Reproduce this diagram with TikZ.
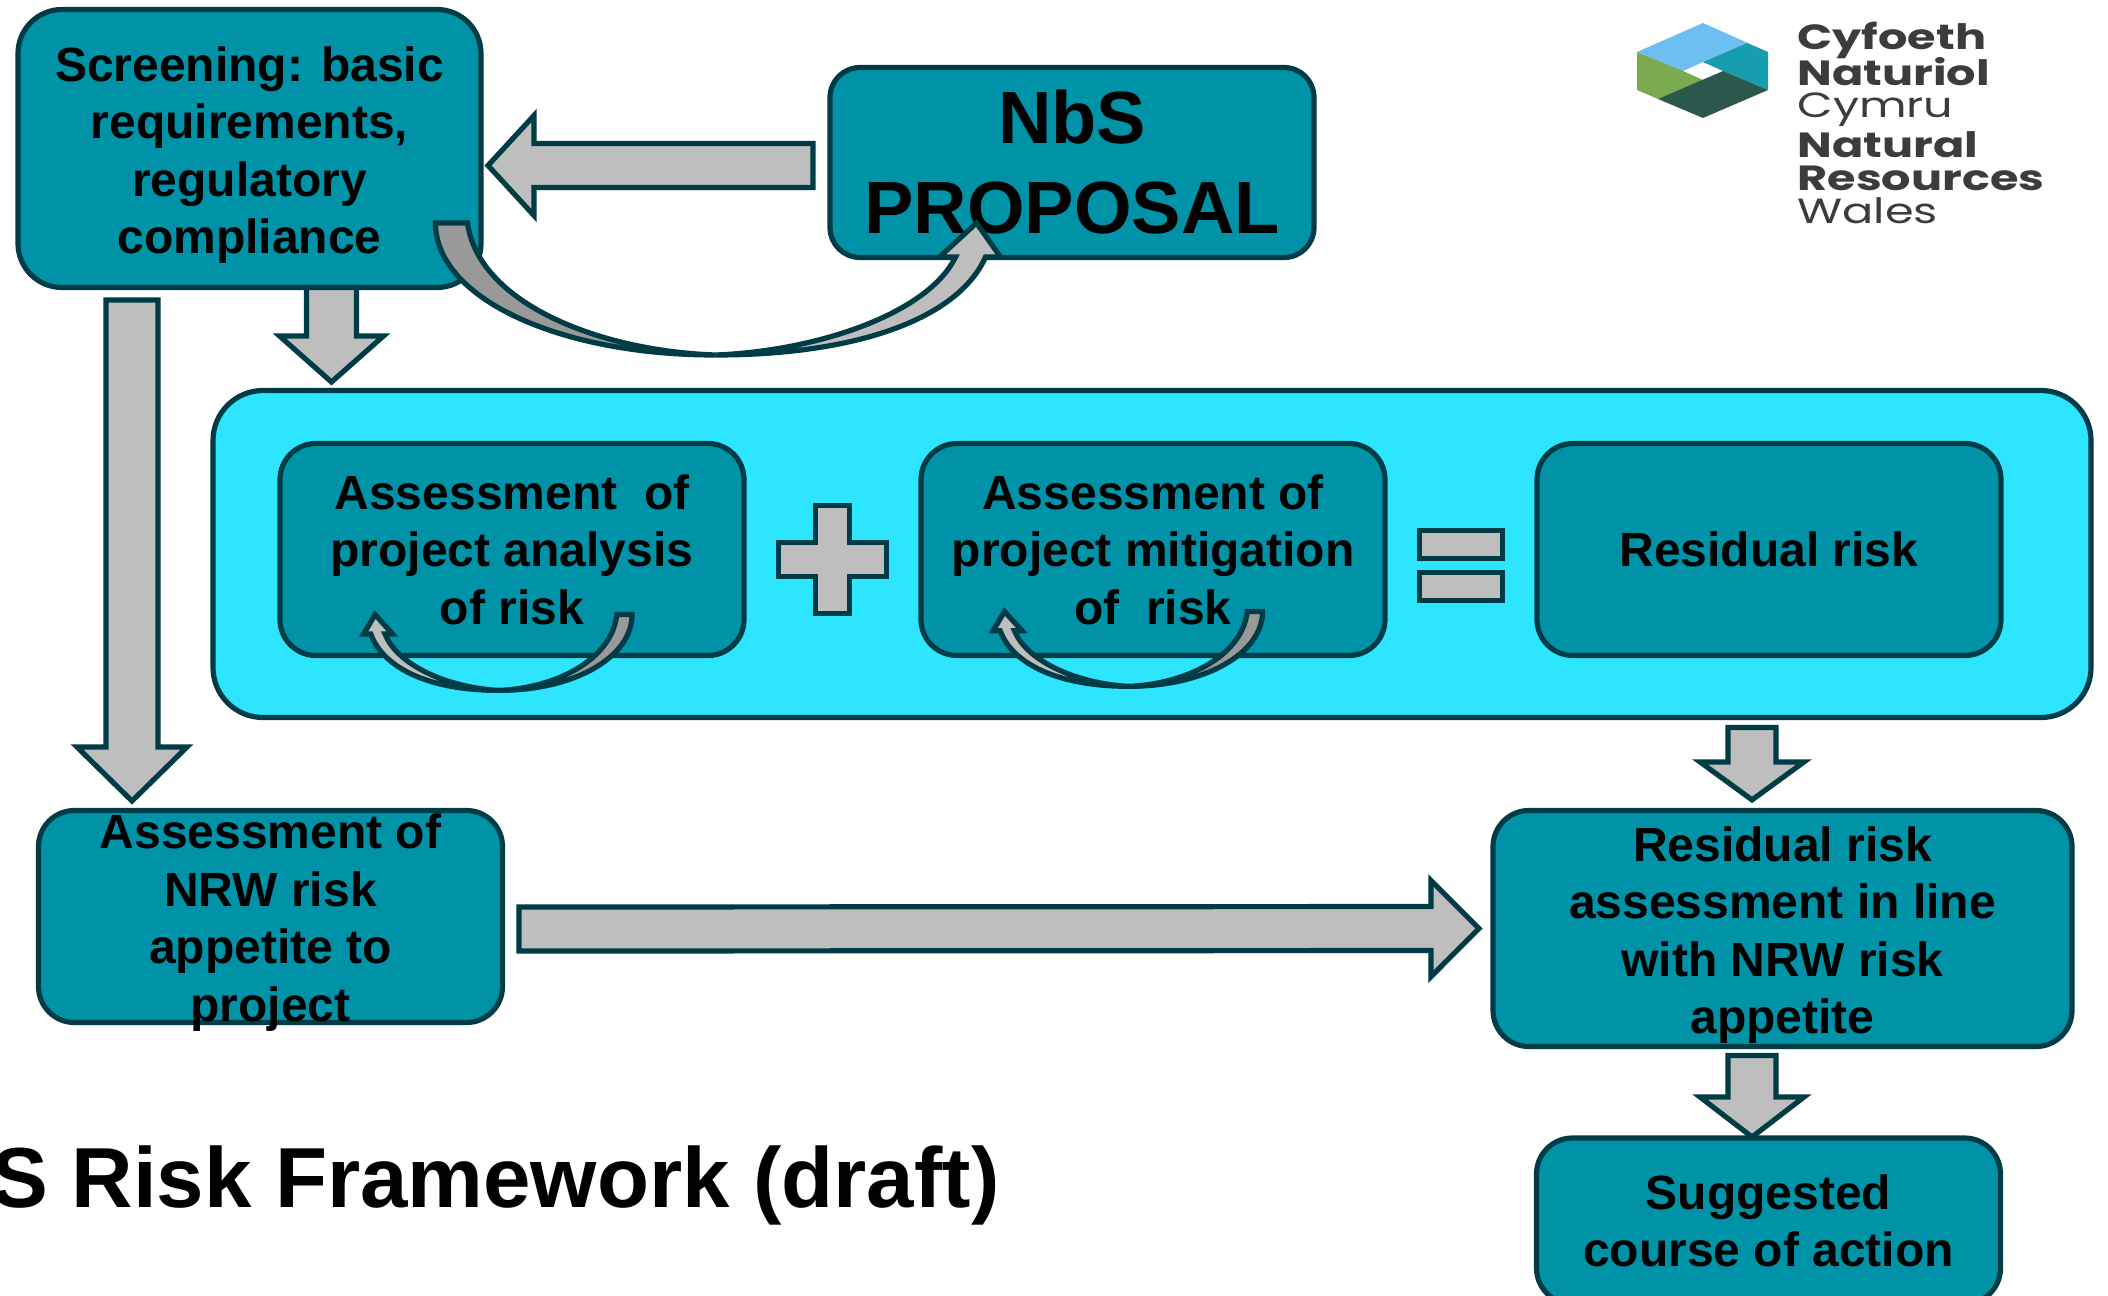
\documentclass[tikz,border=0pt]{standalone}
\usepackage{fontspec}
\setmainfont{Liberation Sans}
\newfontfamily\logofont[FakeStretch=1.32]{Poppins}
\usetikzlibrary{calc,positioning}

\definecolor{boxteal}{HTML}{0093A8}
\definecolor{panelcyan}{HTML}{2DE5FF}
\definecolor{edgeteal}{HTML}{003C46}
\definecolor{facegrey}{HTML}{BEBEBE}
\definecolor{backgrey}{HTML}{999999}
\definecolor{logoblue}{HTML}{6CBFF0}
\definecolor{logoteal}{HTML}{179EAE}
\definecolor{logogreen}{HTML}{7AAB50}
\definecolor{logodark}{HTML}{2C574C}
\definecolor{logotext}{HTML}{3C3C3C}

\newcommand{\topgap}{\rule{0pt}{24pt}}

\newcommand{\blockarrow}[5]{
    \coordinate (base) at ($(#2)!#5!(#1)$);
    \draw[arrowface] ($(#1)!#3!90:(#2)$) -- ($(base)!#3!90:(#2)$) -- ($(base)!#4!90:(#2)$) -- (#2)
        -- ($(base)!#4!-90:(#2)$) -- ($(base)!#3!-90:(#2)$) -- ($(#1)!#3!-90:(#2)$) -- cycle;
}

\newcommand{\curvedarrow}[3]{
    \begin{scope}[shift={(#1)},xscale=#2,yscale=#3]
        \draw[arrowface,fill=backgrey] (2,0) .. controls (2,75) and (125,132) .. (282,132)
            .. controls (165,128) and (45,80) .. (34,0) -- cycle;
        \draw[arrowface] (543,0) -- (567,34) -- (552,34) .. controls (525,95) and (425,132) .. (282,132)
            .. controls (385,128) and (495,90) .. (522,34) -- (506,34) -- cycle;
    \end{scope}
}

\begin{document}
\begin{tikzpicture}[x=.5pt,y=-.5pt,
    box/.style={draw=edgeteal,fill=boxteal,line width=2.6pt,rounded corners=18pt,inner sep=0pt,outer sep=0pt,
        align=center,font=\fontsize{24}{28.8}\selectfont\bfseries,minimum width=232pt,minimum height=106pt},
    boxtext/.style={inner sep=0pt,align=center,font=\fontsize{24}{28.8}\selectfont\bfseries},
    arrowface/.style={draw=edgeteal,fill=facegrey,line width=2.6pt},
    eqbar/.style={arrowface,inner sep=0pt,outer sep=0pt,minimum width=41.5pt,minimum height=14pt},
    logoline/.style={anchor=base west,inner sep=0pt,text=logotext,font=\logofont\fontsize{17.5}{17.5}\selectfont},
    logobold/.style={logoline,font=\logofont\fontsize{17.5}{17.5}\selectfont\bfseries}]

    \useasboundingbox (0,0) rectangle (2108,1295);

    \node[box,rounded corners=22pt,minimum width=231.5pt,minimum height=139pt] (screening) at (249.5,148.5)
        {\topgap Screening: basic\\requirements,\\regulatory\\compliance};
    \node[box,rounded corners=15pt,minimum width=242pt,minimum height=95pt,font=\fontsize{37}{45}\selectfont\bfseries] (proposal) at (1072,162.5)
        {NbS\\PROPOSAL};

    \node[box,fill=panelcyan,rounded corners=25pt,minimum width=939pt,minimum height=163.5pt] (panel) at (1152,554) {};
    \node[box] (analysis) at (512,549.5) {Assessment\ \ of\\project analysis\\of risk};
    \node[box] (mitigation) [right=88.5pt of analysis] {Assessment of\\project mitigation\\of\ \ risk};
    \node[box] (residual) [right=76pt of mitigation] {Residual risk};

    \node[box] (appetite) at (270.5,916.5) {};
    \node[boxtext,yshift=-3pt] (appetitetext) at (appetite) {Assessment of\\NRW risk\\appetite to\\project};
    \node[box,minimum width=289.5pt,minimum height=118pt] (assessment) at (1782.5,928.5)
        {\topgap Residual risk\\assessment in line\\with NRW risk\\appetite};
    \node[box,minimum height=83pt] (action) at (1768.5,1221) {Suggested\\course of action};

    \node[anchor=base east,inner sep=0pt,font=\fontsize{42.6}{50}\selectfont\bfseries] (title) at (1000,1207)
        {S Risk Framework (draft)};

    \coordinate (proposalout) at ([xshift=-8.5pt,yshift=-1.5pt]proposal.west);
    \coordinate (screeningin) at ([xshift=3.5pt,yshift=-8.5pt]screening.east);
    \coordinate (screeningout) at ([xshift=41pt]screening.south);
    \coordinate (panelin) at ([yshift=4.25pt]screeningout |- panel.north);
    \coordinate (screeningside) at ([xshift=-58.75pt,yshift=-6.25pt]screening.south);
    \coordinate (appetitein) at ([xshift=-69.25pt,yshift=4.75pt]appetite.north);
    \coordinate (appetiteout) at ([xshift=8.25pt,yshift=-6.25pt]appetite.east);
    \coordinate (assessmentside) at ([xshift=-7pt]assessment.west);
    \coordinate (panelout) at ([xshift=300pt,yshift=-5pt]panel.south);
    \coordinate (assessmentin) at ([xshift=-15.25pt,yshift=5.3pt]assessment.north);
    \coordinate (assessmentout) at ([xshift=-15.25pt,yshift=-4.5pt]assessment.south);
    \coordinate (actionin) at ([xshift=-8.25pt,yshift=.5pt]action.north);

    \foreach \from/\to/\shaft/\head/\len in {proposalout/screeningin/11/25/23,
                                             screeningout/panelin/12.5/26/23,
                                             screeningside/appetitein/13/27.5/27,
                                             appetiteout/assessmentside/11/24/24,
                                             panelout/assessmentin/12/26/19,
                                             assessmentout/actionin/12/26/20} {
        \blockarrow{\from}{\to}{\shaft pt}{\head pt}{\len pt}
    }

    \coordinate (plus) at ($(analysis.east)!.5!(mitigation.west)+(0,10)$);
    \draw[arrowface,shift={(plus)}] (-17,-54) -- (17,-54) -- (17,-17) -- (54,-17) -- (54,17) -- (17,17)
        -- (17,54) -- (-17,54) -- (-17,17) -- (-54,17) -- (-54,-17) -- (-17,-17) -- cycle;

    \coordinate (equals) at ($(mitigation.east)!.5!(residual.west)+(0,16)$);
    \node[eqbar,yshift=10.5pt] (equalstop) at (equals) {};
    \node[eqbar,yshift=-10.5pt] (equalsbottom) at (equals) {};

    \coordinate (screeningloop) at ([xshift=-23.75pt,yshift=32.25pt]screening.south east);
    \coordinate (analysisloop) at ([xshift=-55.5pt,yshift=20.5pt]analysis.south east);
    \coordinate (mitigationloop) at ([xshift=-60.75pt,yshift=22pt]mitigation.south east);
    \curvedarrow{screeningloop}{1}{1}
    \curvedarrow{analysisloop}{-.475}{.575}
    \curvedarrow{mitigationloop}{-.477}{.567}

    \fill[logoblue] (1703,23) -- (1768,52) -- (1747,43) -- (1703,62) -- (1683,71) -- (1637,52) -- cycle;
    \fill[logoteal] (1747,43) -- (1768,52) -- (1768,90) -- (1723,71) -- (1703,62) -- cycle;
    \fill[logogreen] (1637,52) -- (1683,71) -- (1703,80) -- (1658,99) -- (1637,90) -- cycle;
    \fill[logodark] (1658,99) -- (1723,71) -- (1768,90) -- (1703,118) -- cycle;

    \node[logobold] (cyfoeth) at (1797,50) {Cyfoeth};
    \node[logobold] (naturiol) at (1797,86) {Naturiol};
    \node[logoline] (cymru) at (1797,118) {Cymru};
    \node[logobold] (natural) at (1797,157) {Natural};
    \node[logobold] (resources) at (1797,190) {Resources};
    \node[logoline] (wales) at (1797,223) {Wales};

\end{tikzpicture}
\end{document}
